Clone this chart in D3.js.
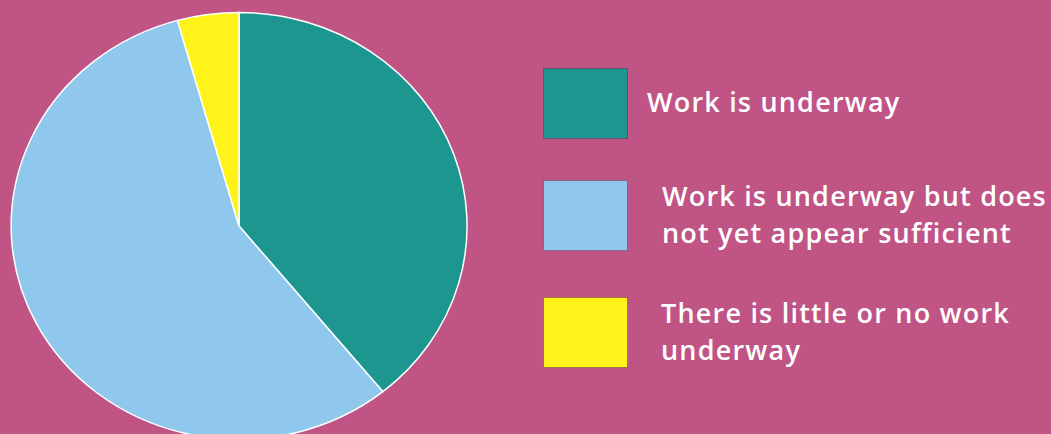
<!DOCTYPE html>
<html>
<head>
<meta charset="utf-8">
<script src="https://cdn.jsdelivr.net/npm/d3@7"></script>
<style>
  html, body { margin: 0; padding: 0; background: #bf5485; overflow: hidden; }
  svg { display: block; }
</style>
</head>
<body>
<svg></svg>
<script>
// data
let categories = ["Work is underway", "Work is underway but does not yet appear sufficient", "There is little or no work underway"];
let counts = [9, 13, 1];
let colors = ["#1e9690", "#8fc8ec", "#fff31a"];
let labelLines = [
  ["Work is underway"],
  ["Work is underway but does", "not yet appear sufficient"],
  ["There is little or no work", "underway"]
];

let width = 1051;
let height = 434;

let svg = d3.select("svg")
  .attr("width", width)
  .attr("height", height);

// pie is a little squashed vertically in the original
let cx = 239, cy = 226, rx = 228, ry = 213.5;

let pie = d3.pie().sort(null).value((d) => d);
let arc = d3.arc().innerRadius(0).outerRadius(1);

let pieG = svg.append("g")
  .attr("transform", `translate(${cx},${cy}) scale(${rx},${ry})`);

pieG.selectAll("path")
  .data(pie(counts))
  .enter()
  .append("path")
  .attr("d", arc)
  .attr("fill", (d, i) => colors[i])
  .attr("stroke", "#ffffff")
  .attr("stroke-width", 1.5)
  .attr("vector-effect", "non-scaling-stroke");

// legend
let boxX = 543, boxW = 84, boxH = 70;
let boxY = [68, 180, 297];
let textX = [647, 662, 661];
let lineH = 37;

let legend = svg.append("g");

legend.selectAll("rect")
  .data(categories)
  .enter()
  .append("rect")
  .attr("x", boxX + 0.5)
  .attr("y", (d, i) => boxY[i] + 0.5)
  .attr("width", boxW)
  .attr("height", boxH)
  .attr("fill", (d, i) => colors[i])
  .attr("stroke", "rgba(60,30,60,0.35)")
  .attr("stroke-width", 1);

legend.selectAll("text")
  .data(labelLines)
  .enter()
  .append("text")
  .attr("x", (d, i) => textX[i])
  .attr("y", (d, i) => boxY[i] + boxH / 2 + 9 - (d.length - 1) * lineH / 2)
  .attr("fill", "#ffffff")
  .style("font-family", "'Open Sans', 'Noto Sans', sans-serif")
  .style("font-weight", 600)
  .style("font-size", "27px")
  .style("letter-spacing", "1.2px")
  .each(function (lines, i) {
    let t = d3.select(this);
    lines.forEach((line, j) => {
      t.append("tspan")
        .attr("x", textX[i])
        .attr("dy", j === 0 ? 0 : lineH)
        .text(line);
    });
  });
</script>
</body>
</html>
